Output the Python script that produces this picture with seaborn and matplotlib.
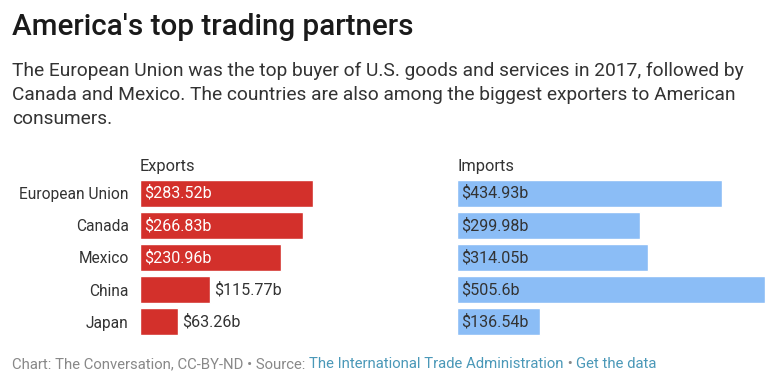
import matplotlib
matplotlib.use("Agg")
import matplotlib.pyplot as plt
import seaborn as sns
import pandas as pd

sns.set_theme(style="white")
plt.rcParams["font.family"] = ["Roboto", "DejaVu Sans"]

countries = ["European Union", "Canada", "Mexico", "China", "Japan"]
exports = [283.52, 266.83, 230.96, 115.77, 63.26]
imports = [434.93, 299.98, 314.05, 505.6, 136.54]
export_labels = ["$283.52b", "$266.83b", "$230.96b", "$115.77b", "$63.26b"]
import_labels = ["$434.93b", "$299.98b", "$314.05b", "$505.6b", "$136.54b"]

RED = "#d3302b"
BLUE = "#8bbdf6"
DARK = "#333333"

df = pd.DataFrame({"country": countries, "exports": exports, "imports": imports})

fig = plt.figure(figsize=(7.75, 3.83), dpi=100)
ax_exp = fig.add_axes([0.1806, 0.1175, 0.3974, 0.4204])
ax_imp = fig.add_axes([0.5897, 0.1175, 0.3974, 0.4204])

xmax = max(max(exports), max(imports))


def draw_panel(ax, col, color, labels, txt_inside, title):
    sns.barplot(data=df, x=col, y="country", ax=ax, color=color,
                saturation=1, width=0.84, orient="h")
    ax.set_xlim(0, xmax)
    ax.set_ylim(4.5, -0.5)
    ax.set_xlabel("")
    ax.set_ylabel("")
    ax.set_xticks([])
    for s in ax.spines.values():
        s.set_visible(False)
    ax.text(0, -0.6, title, fontsize=11.8, color=DARK, va="bottom", ha="left")
    # 1 data unit in pixels
    px = ax.get_window_extent().width / xmax
    for i, (v, lab) in enumerate(zip(df[col], labels)):
        if v * px > 80:
            ax.text(4 / px, i, lab, fontsize=11.6, color=txt_inside,
                    va="center", ha="left")
        else:
            ax.text(v + 4 / px, i, lab, fontsize=11.6, color=DARK,
                    va="center", ha="left")


draw_panel(ax_exp, "exports", RED, export_labels, "white", "Exports")
draw_panel(ax_imp, "imports", BLUE, import_labels, DARK, "Imports")

ax_exp.tick_params(axis="y", length=0, pad=8, labelsize=11.2, labelcolor=DARK)
ax_imp.set_yticks([])

fig.text(12 / 775, 1 - 27 / 383, "America's top trading partners", fontsize=21.3,
         fontweight="medium", color="#1a1a1a", va="center", ha="left")
subtitle = ("The European Union was the top buyer of U.S. goods and services in 2017, followed by\n"
            "Canada and Mexico. The countries are also among the biggest exporters to American\n"
            "consumers.")
fig.text(12 / 775, 1 - 62 / 383, subtitle, fontsize=13.8, color=DARK,
         va="top", ha="left", linespacing=1.42)

# footer with link-coloured parts
parts = [("Chart: The Conversation, CC-BY-ND \u2022 Source: ", "#888888"),
         ("The International Trade Administration", "#4a98b8"),
         (" \u2022 ", "#888888"),
         ("Get the data", "#4a98b8")]
renderer = fig.canvas.get_renderer()
x = 12
for txt, c in parts:
    t = fig.text(x / 775, 1 - 364 / 383, txt, fontsize=10.7, color=c,
                 va="center", ha="left")
    x += t.get_window_extent(renderer).width

fig.savefig("out.png", dpi=100)
